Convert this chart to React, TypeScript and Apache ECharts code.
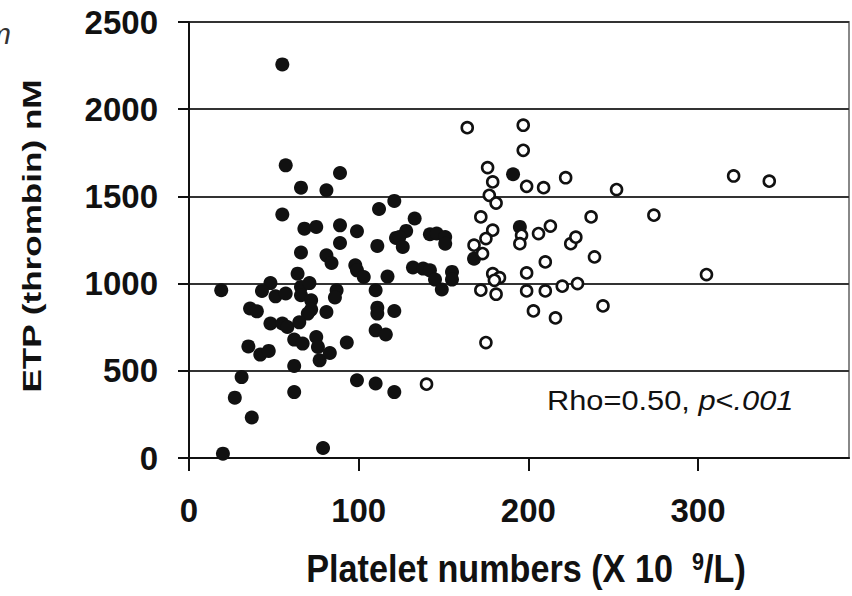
import React, { useEffect, useRef } from "react";
import * as echarts from "echarts";

// Tick values
const xTickValues = [0, 100, 200, 300];
const yTickValues = [0, 500, 1000, 1500, 2000, 2500];

// Filled circles (platelets x10^9/L, ETP nM)
const filledPlatelets = [
  55, 57, 66, 81, 89, 55, 68, 75, 89, 99, 112, 121, 122, 89, 111, 66, 81, 84, 98, 99,
  103, 117, 64, 19, 48, 43, 51, 57, 66, 71, 66, 72, 87, 86, 110, 72, 70, 81, 36, 40,
  48, 55, 58, 65, 111, 111, 121, 110, 116, 35, 42, 47, 62, 67, 75, 76, 77, 83, 93, 62,
  31, 27, 37, 62, 99, 110, 121, 20, 79, 133, 128, 124, 126, 142, 146, 151, 151, 132, 138, 142,
  145, 149, 155, 155, 168, 191, 195,
];
const filledETP = [
  2257, 1678, 1550, 1535, 1634, 1396, 1315, 1325, 1334, 1300, 1428, 1474, 1262, 1233, 1216, 1178, 1162, 1118, 1105, 1076,
  1038, 1040, 1057, 962, 1003, 958, 927, 943, 981, 1003, 933, 904, 962, 920, 962, 851, 828, 837, 857, 841,
  771, 771, 751, 778, 862, 828, 843, 732, 708, 640, 593, 614, 679, 656, 694, 637, 560, 602, 662, 528,
  464, 346, 232, 378, 446, 427, 378, 25, 57, 1373, 1302, 1267, 1210, 1283, 1287, 1267, 1229, 1092, 1086, 1076,
  1023, 966, 1067, 1023, 1143, 1627, 1325,
];

// Open circles
const openPlatelets = [
  164, 197, 197, 176, 179, 199, 209, 222, 177, 181, 172, 179, 175, 168, 173, 196, 195, 206, 213, 225,
  228, 210, 199, 179, 183, 172, 181, 180, 199, 210, 220, 229, 203, 216, 175, 140, 252, 321, 342, 237,
  274, 239, 305, 244,
];
const openETP = [
  1894, 1908, 1764, 1665, 1583, 1558, 1550, 1607, 1506, 1462, 1382, 1306, 1258, 1220, 1172, 1277, 1229, 1287, 1330, 1229,
  1266, 1124, 1061, 1057, 1034, 962, 939, 1019, 958, 958, 985, 1000, 843, 803, 662, 423, 1539, 1617, 1587, 1382,
  1392, 1153, 1052, 872,
];

const FONT = '"Liberation Sans", Arial, sans-serif';

export default function App() {
  const ref = useRef<HTMLDivElement>(null);
  useEffect(() => {
    const chart = echarts.init(ref.current!, null, { renderer: "svg" });
    const filled = filledPlatelets.map((x, i) => [x, filledETP[i]]);
    const open = openPlatelets.map((x, i) => [x, openETP[i]]);
    chart.setOption({
      animation: false,
      backgroundColor: "#ffffff",
      grid: {
        left: 189,
        right: 3,
        top: 22,
        bottom: 138,
        show: true,
        borderColor: "#888",
        borderWidth: 2,
        backgroundColor: "transparent",
      },
      xAxis: {
        type: "value",
        min: 0,
        max: 389,
        interval: 100,
        axisLine: { show: true, onZero: false, lineStyle: { color: "#111", width: 2 } },
        axisTick: {
          show: true,
          length: 13,
          customValues: xTickValues,
          lineStyle: { color: "#111", width: 2 },
        },
        axisLabel: {
          customValues: xTickValues,
          formatter: (v: number) => String(v),
          fontSize: 33,
          fontWeight: "bold",
          fontFamily: FONT,
          color: "#111",
          margin: 36,
        },
        splitLine: { show: false },
      },
      yAxis: {
        type: "value",
        min: 0,
        max: 2500,
        interval: 500,
        axisLine: { show: true, onZero: false, lineStyle: { color: "#111", width: 2 } },
        axisTick: {
          show: true,
          length: 11,
          customValues: yTickValues,
          lineStyle: { color: "#111", width: 2 },
        },
        axisLabel: {
          customValues: yTickValues,
          formatter: (v: number) => String(v),
          fontSize: 33,
          fontWeight: "bold",
          fontFamily: FONT,
          color: "#111",
          margin: 31,
        },
        splitLine: { show: true, lineStyle: { color: "#333", width: 2 } },
      },
      series: [
        {
          type: "scatter",
          data: filled,
          symbol: "circle",
          symbolSize: 14,
          itemStyle: { color: "#111", opacity: 1 },
          z: 2,
        },
        {
          type: "scatter",
          data: open,
          symbol: "circle",
          symbolSize: 11,
          itemStyle: { color: "#fff", borderColor: "#111", borderWidth: 2.6, opacity: 1 },
          z: 3,
        },
      ],
      graphic: [
        {
          type: "text",
          x: 32,
          y: 236,
          rotation: Math.PI / 2,
          scaleX: 1.35,
          style: {
            text: "ETP (thrombin) nM",
            font: `bold 26px ${FONT}`,
            fill: "#111",
            align: "center",
            verticalAlign: "middle",
          },
        },
        {
          type: "text",
          x: 526,
          y: 569,
          scaleX: 0.9,
          style: {
            text: "{a|Platelet numbers (X 10  }{s|9}{a|/L)}",
            rich: {
              a: { font: `bold 38px ${FONT}`, fill: "#111" },
              s: { font: `bold 24px ${FONT}`, fill: "#111", verticalAlign: "top" },
            },
            align: "center",
            verticalAlign: "middle",
            fill: "#111",
          },
        },
        {
          type: "text",
          x: 547,
          y: 401,
          scaleX: 1.14,
          style: {
            text: "{r|Rho=0.50, }{i|p}{r|<}{i|.001}",
            rich: {
              r: { font: `27px ${FONT}`, fill: "#111" },
              i: { font: `italic 27px ${FONT}`, fill: "#111" },
            },
            align: "left",
            verticalAlign: "middle",
            fill: "#111",
          },
        },
        {
          type: "text",
          x: -14,
          y: 33,
          style: {
            text: "m",
            font: `italic 30px ${FONT}`,
            fill: "#333",
            verticalAlign: "middle",
          },
        },
      ],
    });
    return () => chart.dispose();
  }, []);
  return (
    <div
      ref={ref}
      style={{ position: "fixed", left: 0, top: 0, width: 852, height: 596 }}
    />
  );
}
